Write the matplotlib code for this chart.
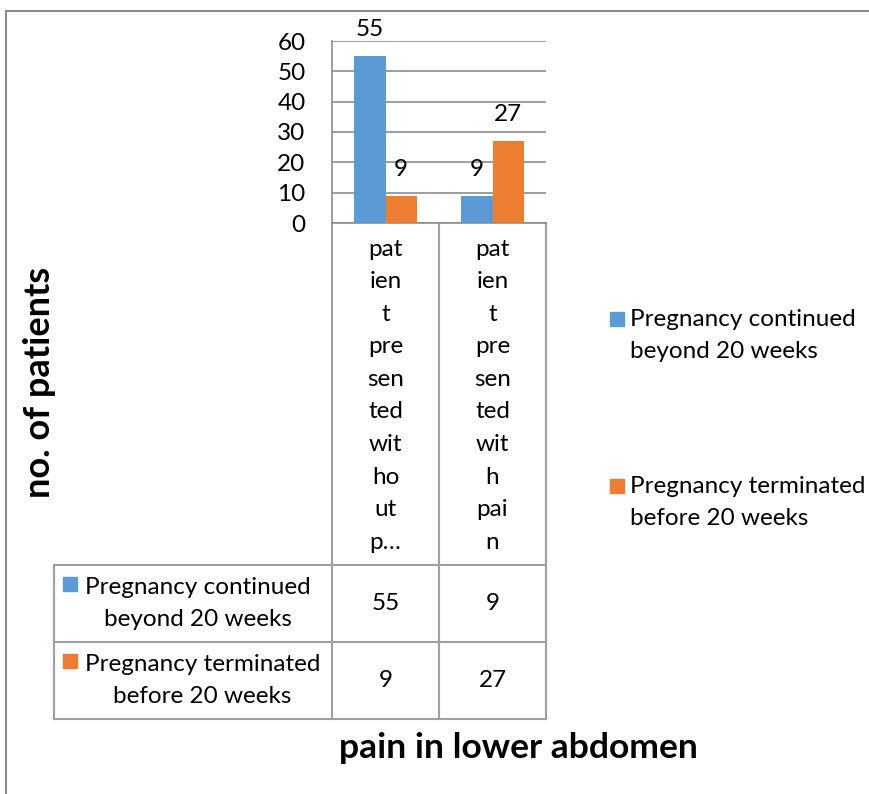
import numpy as np
import matplotlib.pyplot as plt
from matplotlib.lines import Line2D
from matplotlib.patches import Rectangle

# data
categories = ["patient presented without pain", "patient presented with pain"]
# wrapped category text, as it appears under the bars
category_lines = [
    ["pat", "ien", "t", "pre", "sen", "ted", "wit", "ho", "ut", "p\u2026"],
    ["pat", "ien", "t", "pre", "sen", "ted", "wit", "h", "pai", "n"],
]
series_names = ["Pregnancy continued\nbeyond 20 weeks", "Pregnancy terminated\nbefore 20 weeks"]
continued = [55, 9]
terminated = [9, 27]
yticks = [0, 10, 20, 30, 40, 50, 60]
colors = ["#5B9BD5", "#ED7D31"]

W, H = 870, 794
FONT = ["Lato", "DejaVu Sans"]
plt.rcParams['font.family'] = FONT
FS = 17.5

def main():
    fig = plt.figure(figsize=(W / 100, H / 100), dpi=100)

    # overlay axes in pixel coordinates for frame and table lines
    ov = fig.add_axes([0, 0, 1, 1])
    ov.set_xlim(0, W)
    ov.set_ylim(H, 0)
    ov.axis('off')
    ov.patch.set_alpha(0)

    # outer border (top and left visible)
    ov.add_line(Line2D([6, 6], [11, H], color="#8c8c8c", lw=1.5))
    ov.add_line(Line2D([6, W], [11, 11], color="#8c8c8c", lw=1.5))

    # bar axes
    x0, x1, ytop, ybot = 332, 546, 41, 223
    ax = fig.add_axes([x0 / W, 1 - ybot / H, (x1 - x0) / W, (ybot - ytop) / H])
    ax.patch.set_alpha(0)
    x = np.arange(len(categories))
    bw = 0.29
    series = [continued, terminated]
    for i, vals in enumerate(series):
        pos = x + (i - 0.5) * bw
        ax.bar(pos, vals, width=bw, color=colors[i], zorder=3)
        for p, v in zip(pos, vals):
            ax.annotate(str(v), (p, v), xytext=(0, 19), textcoords='offset points',
                        ha='center', va='center', fontsize=FS)
    ax.set_xlim(-0.5, len(categories) - 0.5)
    ax.set_ylim(0, 60)
    ax.set_yticks(yticks)
    ax.set_xticks([])
    ax.yaxis.grid(True, color="#8c8c8c", lw=1.2, zorder=0)
    ax.tick_params(axis='y', length=0, pad=19, labelsize=FS)
    for s in ['top', 'right']:
        ax.spines[s].set_visible(False)
    ax.spines['left'].set_color("#8c8c8c")
    ax.spines['bottom'].set_color("#8c8c8c")
    ax.spines['left'].set_linewidth(1.2)
    ax.spines['bottom'].set_linewidth(1.2)

    # data table
    col_w = (x1 - x0) / len(categories)
    tleft = 54
    rows_y = [565, 642, 719]
    lc = "#a0a0a0"
    for k in range(len(categories) + 1):
        xx = x0 + k * col_w
        ov.add_line(Line2D([xx, xx], [ybot, rows_y[-1]], color=lc, lw=1.5))
    ov.add_line(Line2D([tleft, tleft], [rows_y[0], rows_y[-1]], color=lc, lw=1.5))
    for yy in rows_y:
        ov.add_line(Line2D([tleft, x1], [yy, yy], color=lc, lw=1.5))

    for j, lines in enumerate(category_lines):
        cx = x0 + (j + 0.5) * col_w
        for n, s in enumerate(lines):
            ov.text(cx, 249 + n * 32.6, s, ha='center', va='center', fontsize=FS)

    for i, name in enumerate(series_names):
        rt, rb = rows_y[i], rows_y[i + 1]
        cy = (rt + rb) / 2
        ov.add_patch(Rectangle((63, rt + 12), 14, 14, color=colors[i]))
        ov.text(85, cy, name, ha='left', va='center', multialignment='center',
                fontsize=FS, linespacing=1.65)
        for j, vals in enumerate(series):
            cx = x0 + (j + 0.5) * col_w
            ov.text(cx, cy, str(series[i][j]), ha='center', va='center', fontsize=FS)

    # legend
    leg_y = [312, 479]
    for i, name in enumerate(series_names):
        ov.add_patch(Rectangle((610, leg_y[i]), 14, 14, color=colors[i]))
        ov.text(630, leg_y[i] - 3, name, ha='left', va='top', fontsize=FS,
                linespacing=1.65)

    # axis titles
    ov.text(40, 382, "no. of patients", rotation=90, ha='center', va='center',
            fontsize=26, fontweight='bold')
    ov.text(518, 748, "pain in lower abdomen", ha='center', va='center',
            fontsize=25.5, fontweight='bold')

    fig.savefig("out.png", dpi=100)

if __name__ == '__main__':
    main()
